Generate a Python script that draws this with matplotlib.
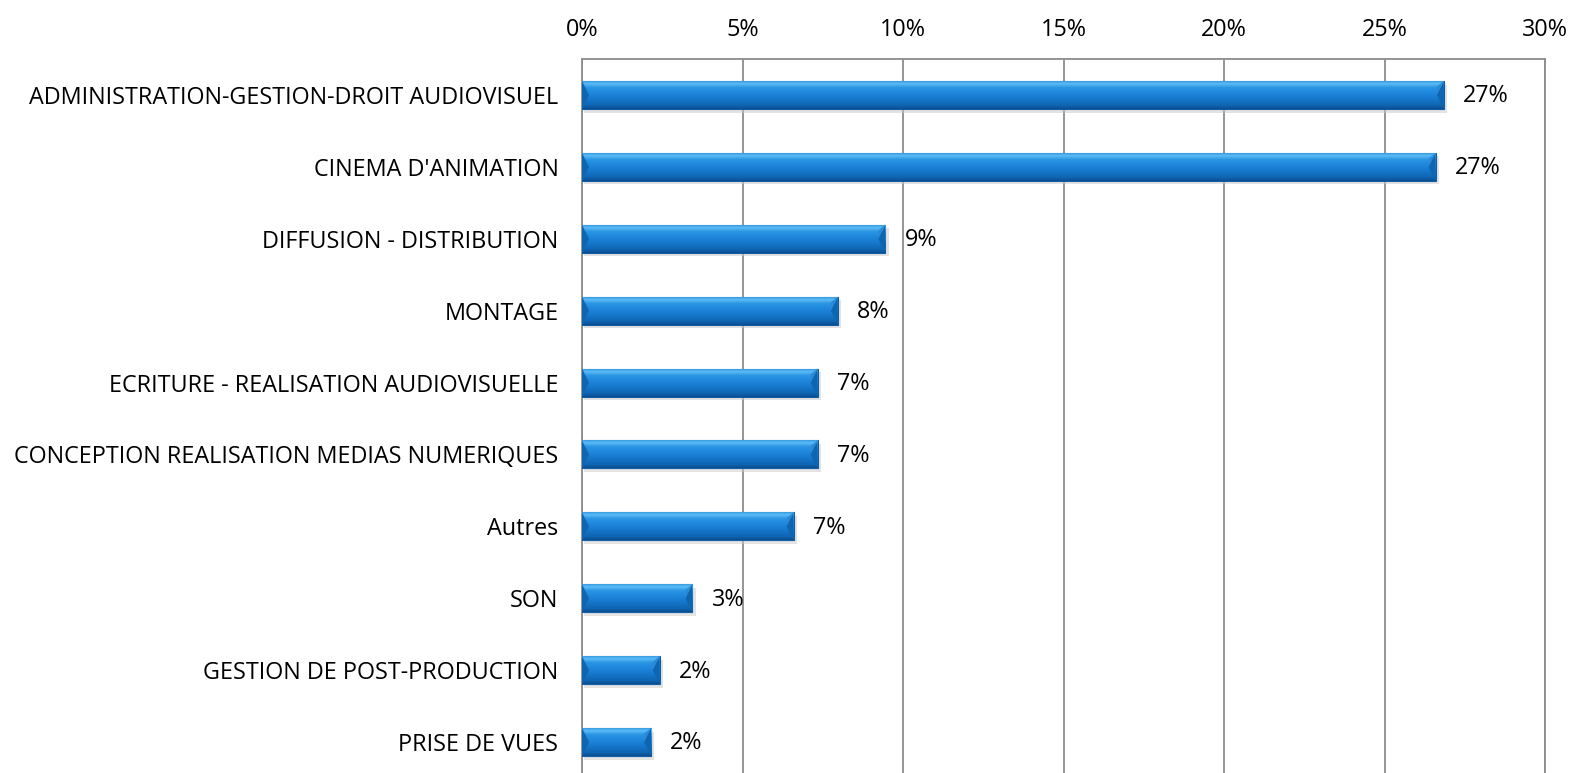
import matplotlib
matplotlib.use("Agg")
import matplotlib.pyplot as plt
import numpy as np
from matplotlib.colors import LinearSegmentedColormap

categories = [
    "ADMINISTRATION-GESTION-DROIT AUDIOVISUEL",
    "CINEMA D'ANIMATION",
    "DIFFUSION - DISTRIBUTION",
    "MONTAGE",
    "ECRITURE - REALISATION AUDIOVISUELLE",
    "CONCEPTION REALISATION MEDIAS NUMERIQUES",
    "Autres",
    "SON",
    "GESTION DE POST-PRODUCTION",
    "PRISE DE VUES",
]
values = [26.85, 26.59, 9.45, 7.97, 7.34, 7.34, 6.59, 3.44, 2.42, 2.15]
value_labels = ["27%", "27%", "9%", "8%", "7%", "7%", "7%", "3%", "2%", "2%"]
xticks = [0, 5, 10, 15, 20, 25, 30]
xtick_labels = ["0%", "5%", "10%", "15%", "20%", "25%", "30%"]

plt.rcParams['font.family'] = ['Open Sans', 'DejaVu Sans']
fig = plt.figure(figsize=(15.77, 7.73), dpi=100)
ax = fig.add_axes([582/1577, 1-778/773, (1545-582)/1577, (778-59)/773])

n = len(categories)
ypos = np.arange(n)
h = 0.39
cmap = LinearSegmentedColormap.from_list("bev", [
    (0.0, "#0b4f8f"), (0.12, "#0e65b2"), (0.45, "#1a80d6"),
    (0.75, "#2b95e6"), (0.88, "#5cbcf5"), (1.0, "#2d90dc")])
grad = np.linspace(1, 0, 64).reshape(-1, 1)

for y, v in zip(ypos, values):
    # shadow
    ax.barh(y + 0.05, v + 0.05, height=h, left=0.05, color="#c8c8c8", alpha=0.5, zorder=2, linewidth=0)
    bar = ax.barh(y, v, height=h, color="#1a80d6", edgecolor="#0e5fa5", linewidth=0.8, zorder=3)[0]
    im = ax.imshow(grad, extent=(0, v, y + h/2, y - h/2), aspect='auto', cmap=cmap,
                   origin='upper', zorder=3.5, interpolation='bilinear')
    im.set_clip_path(bar)
    # bevel ends
    d = 0.22
    ax.fill([0, d, 0], [y - h/2, y, y + h/2], color="#0f66b0", zorder=4, linewidth=0)
    ax.fill([v, v - d, v], [y - h/2, y, y + h/2], color="#0f66b0", zorder=4, linewidth=0)
    ax.fill([v, v - d, v - d, v], [y - h/2, y - h/2 + 0.08, y, y - h/2], color="#2a8ad8", zorder=4.1, linewidth=0)

for y, v, lab in zip(ypos, values, value_labels):
    ax.text(v + 0.6, y + 0.02, lab, va='center', ha='left', fontsize=16.8, color='black', zorder=5)

ax.set_xlim(0, 30)
ax.set_ylim(n - 0.5, -0.5)
ax.set_xticks(xticks)
ax.set_xticklabels(xtick_labels, fontsize=16.8)
ax.xaxis.tick_top()
ax.tick_params(axis='x', length=0, pad=12)
ax.set_yticks(ypos)
ax.set_yticklabels(categories, fontsize=16.8)
ax.tick_params(axis='y', length=0, pad=17)
ax.grid(axis='x', color='#8c8c8c', linewidth=1.3, zorder=1)
ax.set_axisbelow(True)
for s in ax.spines.values():
    s.set_color('#8c8c8c')
    s.set_linewidth(1.3)

fig.savefig("out.png", dpi=100)
